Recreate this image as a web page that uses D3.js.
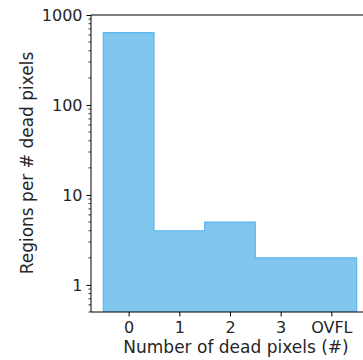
<!DOCTYPE html>
<html>
<head>
<meta charset="utf-8">
<script src="https://cdn.jsdelivr.net/npm/d3@7"></script>
<style>
  html, body { margin: 0; padding: 0; background: #fff; }
  svg text { font-family: "DejaVu Sans", sans-serif; fill: #262626; }
</style>
</head>
<body>
<svg id="chart" width="363" height="360"></svg>
<script>
// Histogram of regions by number of dead pixels (last bin is overflow)
const categories = ["0", "1", "2", "3", "OVFL"];
const counts = [636, 4, 5, 2, 2];
const yTickValues = [1, 10, 100, 1000];
const yTickLabels = ["1", "10", "100", "1000"];

const svg = d3.select("#chart");
const margin = { left: 91, top: 15, right: 382, bottom: 312 };

const x = d3.scaleLinear().domain([-0.743, 5.0]).range([margin.left, margin.right]);
const y = d3.scaleLog().domain([0.5, 1000]).range([margin.bottom, margin.top]);

// Step outline of the histogram, closed down to the axis floor
const pts = [];
counts.forEach((c, i) => {
  pts.push([i - 0.5, c]);
  pts.push([i + 0.5, c]);
});
const area = d3.area()
  .x(d => x(d[0]))
  .y0(y(0.5))
  .y1(d => y(d[1]));
const line = d3.line().x(d => x(d[0])).y(d => y(d[1]));

svg.append("path")
  .datum(pts)
  .attr("d", area)
  .attr("fill", "#80c6ee");

const outline = [[-0.5, 0.5], ...pts, [counts.length - 0.5, 0.5]];
svg.append("path")
  .datum(outline)
  .attr("d", line)
  .attr("fill", "none")
  .attr("stroke", "#5cb6ef")
  .attr("stroke-width", 1.2);

// Spines: left, top, bottom
const spine = svg.append("g").attr("stroke", "#000").attr("stroke-width", 1).attr("fill", "none");
spine.append("line").attr("x1", margin.left).attr("x2", margin.left).attr("y1", margin.top).attr("y2", margin.bottom);
spine.append("line").attr("x1", margin.left).attr("x2", margin.right).attr("y1", margin.top).attr("y2", margin.top);
spine.append("line").attr("x1", margin.left).attr("x2", margin.right).attr("y1", margin.bottom).attr("y2", margin.bottom);

// Y axis (log): major ticks with labels, minor ticks between
const yAxis = d3.axisLeft(y)
  .tickValues(yTickValues)
  .tickFormat((d, i) => yTickLabels[i])
  .tickSize(4.5)
  .tickPadding(4);
const gy = svg.append("g").attr("transform", `translate(${margin.left},0)`).call(yAxis);
gy.select(".domain").remove();
gy.selectAll("text").style("font-size", "16px").attr("fill", "#262626");

const minor = [];
for (let e = -1; e <= 2; e++) {
  for (let m = 2; m <= 9; m++) {
    const v = m * Math.pow(10, e);
    if (v >= 0.5 && v <= 1000) minor.push(v);
  }
}
svg.append("g").selectAll("line").data(minor).join("line")
  .attr("x1", margin.left - 2.5).attr("x2", margin.left)
  .attr("y1", d => y(d)).attr("y2", d => y(d))
  .attr("stroke", "#000").attr("stroke-width", 0.8);

// X axis with category labels
const xAxis = d3.axisBottom(x)
  .tickValues(d3.range(categories.length))
  .tickFormat(i => categories[i])
  .tickSize(4.5)
  .tickPadding(5.5);
const gx = svg.append("g").attr("transform", `translate(0,${margin.bottom})`).call(xAxis);
gx.select(".domain").remove();
gx.selectAll("text").style("font-size", "16px").attr("fill", "#262626");

// Axis titles
svg.append("text")
  .attr("x", 236).attr("y", 353)
  .attr("text-anchor", "middle")
  .style("font-size", "17px")
  .text("Number of dead pixels (#)");

svg.append("text")
  .attr("transform", "translate(33,163) rotate(-90)")
  .attr("text-anchor", "middle")
  .style("font-size", "17px")
  .text("Regions per # dead pixels");
</script>
</body>
</html>
